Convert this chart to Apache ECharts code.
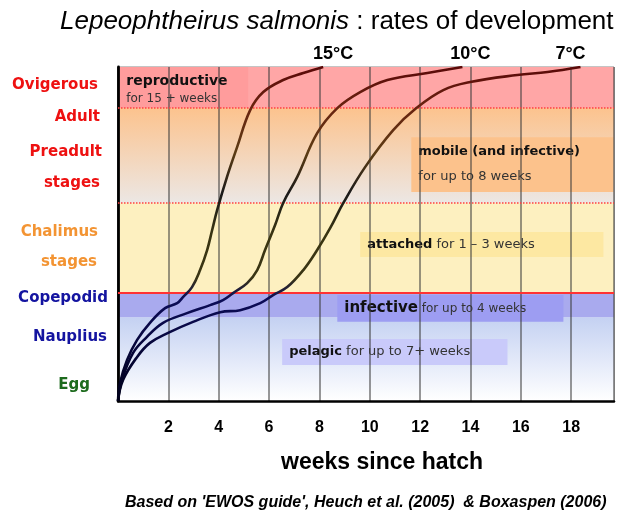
<!DOCTYPE html>
<html>
<head>
<meta charset="utf-8">
<script src="https://cdn.jsdelivr.net/npm/echarts@6/dist/echarts.min.js"></script>
<style>
  html, body { margin: 0; padding: 0; background: #fff; }
  #chart { width: 620px; height: 516px; }
</style>
</head>
<body>
<div id="chart"></div>
<script>
// development curves (weeks since hatch / development 0-100)
var weeks15 = [0, 0.08, 0.36, 0.76, 1.27, 1.87, 2.35, 2.58, 2.94, 3.26, 3.54, 3.74, 3.94, 4.33, 4.73, 5.25, 5.77, 6.56, 7.36, 8.15];
var dev15   = [0, 5.4, 12.3, 18.3, 23.4, 27.8, 29.3, 31.1, 34.1, 39.2, 45.2, 51.2, 57.2, 67.1, 76.0, 87.1, 92.5, 96.1, 98.2, 100];
var weeks10 = [0, 0.16, 0.6, 1.15, 1.79, 2.74, 3.66, 4.17, 4.57, 5.13, 5.53, 5.84, 6.24, 6.56, 7.12, 7.91, 8.71, 9.62, 10.7, 12.29, 13.68];
var dev10   = [0, 6.3, 14.4, 19.2, 23.4, 26.3, 28.7, 30.2, 32.3, 35.3, 39.2, 45.2, 52.7, 59.3, 67.1, 80.2, 87.7, 92.5, 96.1, 98.2, 100];
var weeks7  = [0, 0.2, 0.76, 1.27, 1.99, 2.98, 4.06, 4.85, 5.65, 6.16, 6.72, 7.36, 7.91, 8.43, 8.95, 9.82, 10.93, 11.85, 12.92, 13.99, 15.86, 17.06, 18.37];
var dev7    = [0, 6.3, 13.2, 17.4, 20.4, 23.7, 26.6, 27.2, 29.3, 31.7, 34.1, 39.2, 45.2, 51.8, 59.3, 70.1, 81.1, 87.7, 93.1, 95.5, 97.6, 98.5, 100];
var temps   = ['15°C', '10°C', '7°C'];

// stage labels on the left
var stageNames  = ['Ovigerous', 'Adult', 'Preadult', 'stages', 'Chalimus', 'stages', 'Copepodid', 'Nauplius', 'Egg'];
var stageValues = [94.6, 85.0, 74.6, 65.3, 50.6, 41.6, 30.8, 19.2, 4.8];

// band limits (pelagic, infective, attached, mobile, reproductive)
var bandEdges = [0, 25.1, 32.3, 59.3, 87.7, 100];

var stageColors = ['#ee1111', '#ee1111', '#ee1111', '#ee1111', '#f39433', '#f39433', '#1414a0', '#1414a0', '#1d6b1d'];
var stagePads = [10, 8, 6, 8, 10, 11, 0, 1, 18];

var chart = echarts.init(document.getElementById('chart'));

function grad(stops) {
  return new echarts.graphic.LinearGradient(0, 0, 0, 1, stops);
}

var stageRich = {};
stageNames.forEach(function (n, i) {
  stageRich['s' + i] = {
    color: stageColors[i], fontFamily: 'DejaVu Sans', fontWeight: 'bold', fontSize: 15,
    padding: [0, stagePads[i], 0, 0]
  };
});

// text boxes drawn inside the plot
var boxText = {
  b: { fontFamily: 'DejaVu Sans', fontWeight: 'bold', fontSize: 13, color: '#111' },
  n: { fontFamily: 'DejaVu Sans', fontSize: 13, color: '#333' },
  bb: { fontFamily: 'DejaVu Sans', fontWeight: 'bold', fontSize: 15, color: '#111' },
  ns: { fontFamily: 'DejaVu Sans', fontSize: 12, color: '#333' },
  b14: { fontFamily: 'DejaVu Sans', fontWeight: 'bold', fontSize: 14, color: '#111' },
  n12: { fontFamily: 'DejaVu Sans', fontSize: 12, color: '#333', lineHeight: 22 }
};
function box(x0, x1, y0, y1, color, text, pos) {
  return [
    { xAxis: x0, yAxis: y0, itemStyle: { color: color },
      label: { show: true, position: pos || 'insideLeft', distance: 7, formatter: text, rich: boxText } },
    { xAxis: x1, yAxis: y1 }
  ];
}

var curveColor = grad([
  { offset: 0, color: '#5a0808' },
  { offset: 0.13, color: '#6a2410' },
  { offset: 0.26, color: '#5c3c14' },
  { offset: 0.38, color: '#1a1a1a' },
  { offset: 0.5, color: '#3a3512' },
  { offset: 0.63, color: '#3a3514' },
  { offset: 0.69, color: '#0c0c58' },
  { offset: 1, color: '#000018' }
]);

function curve(name, xs, ys, off) {
  var data = xs.map(function (x, i) { return [x, ys[i]]; });
  var last = data[data.length - 1];
  return {
    name: name,
    type: 'line',
    z: 5,
    data: data,
    smooth: 0.4,
    showSymbol: false,
    symbol: 'none',
    lineStyle: { width: 2.6, color: curveColor },
    markPoint: {
      symbol: 'circle', symbolSize: 0, silent: true,
      data: [{ coord: last }],
      label: {
        show: true, position: 'top', distance: 4, offset: off, formatter: name,
        fontFamily: 'Liberation Sans', fontWeight: 'bold', fontSize: 18, color: '#000'
      }
    }
  };
}

var option = {
  animation: false,
  title: [{
    text: '{i|Lepeophtheirus salmonis} : rates of development',
    left: 55, top: 4,
    textStyle: {
      fontFamily: 'Liberation Sans', fontSize: 26, fontWeight: 'normal', color: '#000',
      rich: { i: { fontFamily: 'Liberation Sans', fontSize: 26, fontStyle: 'italic', color: '#000' } }
    }
  }, {
    text: "Based on 'EWOS guide', Heuch et al. (2005)  & Boxaspen (2006)",
    left: 120, top: 490,
    textStyle: { fontFamily: 'Liberation Sans', fontSize: 16, fontWeight: 'bold', fontStyle: 'italic', color: '#000' }
  }],
  grid: {
    left: 118, right: 6, top: 67, bottom: 115,
    show: true, borderColor: '#888', borderWidth: 1, backgroundColor: '#fff'
  },
  xAxis: {
    type: 'value', min: 0, max: 19.7, interval: 2, z: 3,
    name: 'weeks since hatch', nameLocation: 'middle', nameGap: 50,
    nameTextStyle: { fontFamily: 'Liberation Sans', fontWeight: 'bold', fontSize: 23, color: '#000', padding: [0, 0, 0, 32] },
    axisLine: { lineStyle: { color: '#000', width: 2.5 } },
    axisTick: { show: false },
    axisLabel: {
      margin: 19, fontFamily: 'Liberation Sans', fontWeight: 'bold', fontSize: 16, color: '#000',
      showMaxLabel: false,
      formatter: function (v) { return (v > 0 && v % 2 === 0) ? String(v) : ''; }
    },
    splitLine: { show: true, lineStyle: { color: 'rgba(60,60,60,0.7)', width: 1.5 } }
  },
  yAxis: {
    type: 'value', min: 0, max: 100, z: 3,
    axisLine: { show: true, lineStyle: { color: '#000', width: 2.8 } },
    axisTick: { show: false },
    splitLine: { show: false },
    axisLabel: {
      margin: 10,
      customValues: stageValues,
      formatter: function (v) {
        var i = stageValues.indexOf(v);
        return i < 0 ? '' : '{s' + i + '|' + stageNames[i] + '}';
      },
      rich: stageRich
    }
  },
  series: [
    {
      // coloured stage bands and their borders
      type: 'line', z: 1, silent: true, symbol: 'none',
      data: [[0, 0]], lineStyle: { opacity: 0 },
      markArea: {
        silent: true,
        data: [
          [{ yAxis: bandEdges[0], itemStyle: { color: grad([{ offset: 0, color: '#c4d1f2' }, { offset: 1, color: '#ffffff' }]) } }, { yAxis: bandEdges[1] }],
          [{ yAxis: bandEdges[1], itemStyle: { color: '#a9aaee' } }, { yAxis: bandEdges[2] }],
          [{ yAxis: bandEdges[2], itemStyle: { color: '#fdf0c0' } }, { yAxis: bandEdges[3] }],
          [{ yAxis: bandEdges[3], itemStyle: { color: grad([{ offset: 0, color: '#fcc38e' }, { offset: 1, color: '#ece7e4' }]) } }, { yAxis: bandEdges[4] }],
          [{ yAxis: bandEdges[4], itemStyle: { color: '#ffa6a6' } }, { yAxis: bandEdges[5] }]
        ]
      },
      markLine: {
        silent: true, symbol: 'none', label: { show: false },
        data: [
          { yAxis: bandEdges[4], lineStyle: { color: '#ff4040', type: 'dotted', width: 1.5 } },
          { yAxis: bandEdges[3], lineStyle: { color: '#ff4040', type: 'dotted', width: 1.5 } },
          { yAxis: bandEdges[2], lineStyle: { color: '#ff3333', type: 'solid', width: 2 } }
        ]
      }
    },
    {
      // annotation boxes
      type: 'line', z: 1, silent: true, symbol: 'none',
      data: [[0, 0]], lineStyle: { opacity: 0 },
      markArea: {
        silent: true,
        data: [
          box(0.05, 5.17, 87.7, 100, '#ff9c9c', '{b14|reproductive}\n{n12|for 15 + weeks}', 'insideTopLeft'),
          box(11.65, 19.68, 62.6, 79.0, '#fcc28c', '{b|mobile (and infective)}\n\n{n|for up to 8 weeks}'),
          box(9.62, 19.28, 43.1, 50.6, '#fde8a2', '{b|attached}{n| for 1 – 3 weeks}'),
          box(8.71, 17.69, 23.7, 31.7, '#9d9df2', '{bb|infective}{ns| for up to 4 weeks}'),
          box(6.52, 15.47, 10.8, 18.6, '#c9cafa', '{b|pelagic}{n| for up to 7+ weeks}')
        ]
      }
    },
    curve(temps[0], weeks15, dev15, [10, 0]),
    curve(temps[1], weeks10, dev10, [8, 0]),
    curve(temps[2], weeks7, dev7, [-10, 0])
  ]
};

chart.setOption(option);
</script>
</body>
</html>
